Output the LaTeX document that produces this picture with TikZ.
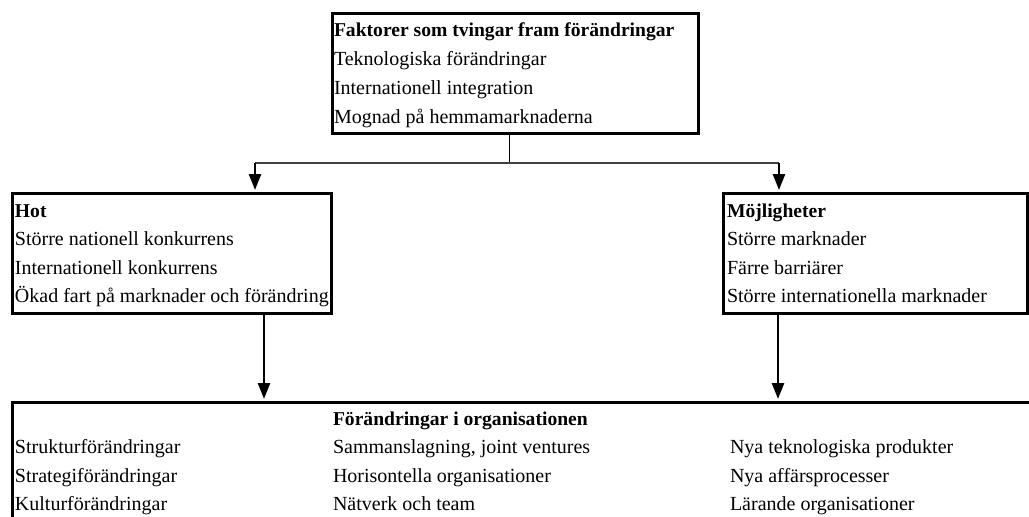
\documentclass[tikz,border=0pt]{standalone}
\usepackage{fontspec}
\setmainfont{Liberation Serif}
\usetikzlibrary{arrows.meta}

\begin{document}
\begin{tikzpicture}[x=1pt,y=-1pt,
  frame/.style={draw=black,line width=3pt,inner sep=0pt,outer sep=0pt},
  txt/.style={anchor=base west,inner sep=0pt,outer sep=0pt,
              font=\fontsize{20}{28.7}\selectfont},
  hd/.style={txt,font=\fontsize{19.6}{28.7}\selectfont\bfseries},
  thinline/.style={draw=black,line width=1pt},
  bus/.style={draw=black!75,line width=2pt},
  flow/.style={draw=black,line width=2.5pt,
               -{Triangle[width=12pt,length=16pt]},shorten >=3pt}]
\clip (0,0) rectangle (1029,517);
\fill[white] (0,0) rectangle (1029,517);

% boxes
\node[frame,minimum width=366pt,minimum height=120pt,anchor=north west] (top) at (332,13) {};
\node[frame,minimum width=319pt,minimum height=120pt,anchor=north west] (hot) at (12,193) {};
\node[frame,minimum width=304pt,minimum height=120pt,anchor=north west] (opp) at (723,193) {};
\node[frame,minimum width=1040pt,minimum height=160pt,anchor=north west] (org) at (12,402) {};

% top box text
\node[hd]  (t0) at (334,36)  {Faktorer som tvingar fram förändringar};
\node[txt] (t1) at (334,65)  {Teknologiska förändringar};
\node[txt] (t2) at (334,94)  {Internationell integration};
\node[txt] (t3) at (334,123) {Mognad på hemmamarknaderna};

% threats
\node[hd]  (h0) at (15,217) {Hot};
\node[txt] (h1) at (15,245) {Större nationell konkurrens};
\node[txt] (h2) at (15,274) {Internationell konkurrens};
\node[txt] (h3) at (15,302) {Ökad fart på marknader och förändring};

% opportunities
\node[hd]  (m0) at (727,217) {Möjligheter};
\node[txt] (m1) at (727,245) {Större marknader};
\node[txt] (m2) at (727,274) {Färre barriärer};
\node[txt] (m3) at (727,302) {Större internationella marknader};

% organisational change
\node[hd]  (o0) at (333,425) {Förändringar i organisationen};
\node[txt] (a1) at (15,453)  {Strukturförändringar};
\node[txt] (a2) at (15,482)  {Strategiförändringar};
\node[txt] (a3) at (15,510)  {Kulturförändringar};
\node[txt] (b1) at (333,453) {Sammanslagning, joint ventures};
\node[txt] (b2) at (333,482) {Horisontella organisationer};
\node[txt] (b3) at (333,510) {Nätverk och team};
\node[txt] (c1) at (730,453) {Nya teknologiska produkter};
\node[txt] (c2) at (730,482) {Nya affärsprocesser};
\node[txt] (c3) at (730,510) {Lärande organisationer};

% connectors
\coordinate (j)  at (509,163);
\coordinate (jl) at (255,163);
\coordinate (jr) at (779,163);
\draw[thinline] (top.south -| j) -- (j);
\draw[bus] (jl) -- (jr);
\draw[flow] (jl) -- (jl |- hot.north);
\draw[flow] (jr) -- (jr |- opp.north);
\draw[flow] (hot.south -| 264,0) -- (org.north -| 264,0);
\draw[flow] (opp.south -| 778,0) -- (org.north -| 778,0);
\end{tikzpicture}
\end{document}
